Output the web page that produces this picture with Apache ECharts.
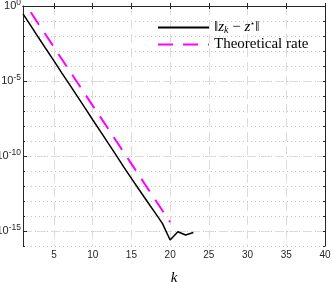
<!DOCTYPE html>
<html><head><meta charset="utf-8">
<script src="https://cdn.jsdelivr.net/npm/echarts@6/dist/echarts.min.js"></script>
<style>html,body{margin:0;padding:0;background:#fff}#c{width:332px;height:282px}</style>
</head><body><div id="c"></div>
<script>
// iterations and errors ||z_k - z*||
const kErr = [1,2,3,4,5,6,7,8,9,10,11,12,13,14,15,16,17,18,19,20,21,22,23];
const errVals = [2.95e-1,4.9e-2,7.9e-3,1.3e-3,2.2e-4,3.5e-5,5.9e-6,9.8e-7,1.6e-7,2.6e-8,4.4e-9,7.2e-10,1.2e-10,1.9e-11,3.2e-12,5.6e-13,1.0e-13,1.8e-14,3.2e-15,2.5e-16,8.9e-16,5.4e-16,7.9e-16];
// theoretical rate
const kRate = [2,3,4,5,6,7,8,9,10,11,12,13,14,15,16,17,18,19,20];
const rateVals = [3.8e-1,6.3e-2,1.07e-2,1.8e-3,2.95e-4,4.9e-5,8.3e-6,1.38e-6,2.3e-7,3.9e-8,6.5e-9,1.07e-9,1.8e-10,3.0e-11,5.0e-12,8.3e-13,1.4e-13,2.3e-14,3.9e-15];
const xTicks = [5,10,15,20,25,30,35,40];
const yMajorExp = [-15,-10,-5,0];
const seriesNames = ['‖z_k − z*‖','Theoretical rate'];

const axisColor = '#262626';
const sans = 'Liberation Sans';
const serif = 'Liberation Serif';
const toLog = (ks, vs) => ks.map((k,i) => [k, Math.log10(vs[i])]);

const chart = echarts.init(document.getElementById('c'), null, {renderer:'canvas'});
chart.setOption({
  animation:false,
  backgroundColor:'#fff',
  grid:{left:23,right:7,top:6,bottom:36,containLabel:false,outerBoundsMode:'none'},
  legend:{
    orient:'vertical', left:157, top:20, padding:0, itemWidth:51, itemHeight:10, itemGap:2,
    data:seriesNames,
    itemStyle:{opacity:0,borderWidth:0},
    textStyle:{fontFamily:serif,fontSize:15,lineHeight:15,color:'#000',
      rich:{i:{fontFamily:serif,fontStyle:'italic',fontSize:15,lineHeight:15},
            sub:{fontFamily:serif,fontStyle:'italic',fontSize:10,lineHeight:15,verticalAlign:'bottom',padding:[5,0,0,0]},
            sup:{fontFamily:'DejaVu Serif',fontSize:8,lineHeight:15,verticalAlign:'top',padding:[0,0,6,0]}}},
    formatter:n => n===seriesNames[0] ? '‖{i|z}{sub|k} − {i|z}{sup|⋆}‖' : n
  },
  xAxis:[
    {type:'value',min:1,max:40,position:'bottom',
     name:'k',nameLocation:'middle',nameGap:25,
     nameTextStyle:{fontFamily:serif,fontStyle:'italic',fontSize:15,color:'#000'},
     axisLine:{show:true,lineStyle:{color:axisColor,width:1}},
     axisTick:{show:true,inside:true,length:3,customValues:xTicks,lineStyle:{color:axisColor}},
     axisLabel:{customValues:xTicks,color:axisColor,fontFamily:sans,fontSize:10,margin:4},
     splitLine:{show:true,lineStyle:{color:'#dcdcdc',type:[9,5],width:1}}},
    {type:'value',min:1,max:40,position:'top',
     axisLine:{show:true,lineStyle:{color:axisColor,width:1}},
     axisTick:{show:true,inside:true,length:3,customValues:xTicks,lineStyle:{color:axisColor}},
     axisLabel:{show:false},splitLine:{show:false}}
  ],
  yAxis:[
    {type:'value',min:-16,max:0,interval:1,position:'left',
     axisLine:{show:true,lineStyle:{color:axisColor,width:1}},
     axisTick:{show:true,inside:true,length:2,lineStyle:{color:axisColor}},
     axisLabel:{show:false},
     splitLine:{show:true,lineStyle:{color:'#c4c4c4',type:[1,3],width:1}}},
    {type:'value',min:-16,max:0,position:'left',
     axisLine:{show:false},
     axisTick:{show:true,inside:true,length:4,customValues:yMajorExp,lineStyle:{color:axisColor}},
     axisLabel:{customValues:yMajorExp,margin:2,
       formatter:v => '{b|10}{s|' + (v===0 ? '0' : '-' + Math.abs(v)) + '}',
       rich:{b:{fontFamily:sans,fontSize:11,color:axisColor},
             s:{fontFamily:sans,fontSize:8.5,color:axisColor,verticalAlign:'top',padding:[0,0,7,0]}}},
     splitLine:{show:true,lineStyle:{color:'#dcdcdc',type:[9,5],width:1}}},
    {type:'value',min:-16,max:0,interval:1,position:'right',
     axisLine:{show:true,lineStyle:{color:axisColor,width:1}},
     axisTick:{show:true,inside:true,length:2,lineStyle:{color:axisColor}},
     axisLabel:{show:false},splitLine:{show:false}}
  ],
  series:[
    {name:seriesNames[0],type:'line',xAxisIndex:0,yAxisIndex:0,data:toLog(kErr,errVals),
     symbol:'none',showSymbol:false,color:'#000',lineStyle:{color:'#000',width:1.5},z:3},
    {name:seriesNames[1],type:'line',xAxisIndex:0,yAxisIndex:0,data:toLog(kRate,rateVals),
     symbol:'none',showSymbol:false,color:'#ff00ff',lineStyle:{color:'#ff00ff',width:2,type:[15,10]},z:4}
  ]
});
</script></body></html>
